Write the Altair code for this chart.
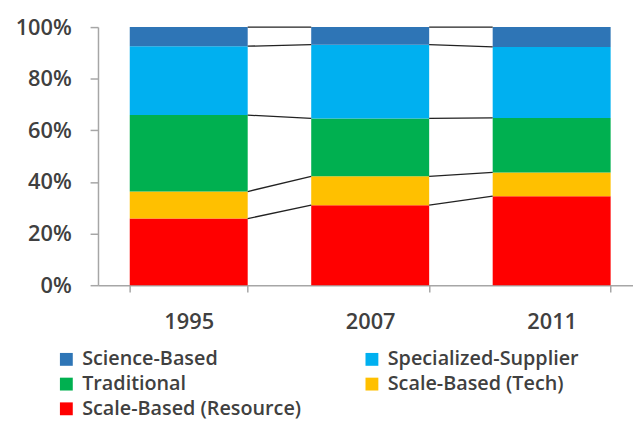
import altair as alt
import pandas as pd

years = ["1995", "2007", "2011"]
categories = ["Science-Based", "Specialized-Supplier", "Traditional",
              "Scale-Based (Tech)", "Scale-Based (Resource)"]
colors = ["#2E75B6", "#00B0F0", "#00B050", "#FFC000", "#FF0000"]

science = [7.4, 6.8, 7.7]
specialized = [26.7, 28.6, 27.5]
traditional = [29.6, 22.4, 21.1]
tech = [10.5, 11.2, 9.2]
resource = [25.8, 31.0, 34.5]

y_ticks = [0, 20, 40, 60, 80, 100]

# stacking order bottom -> top
stack = [("Scale-Based (Resource)", resource), ("Scale-Based (Tech)", tech),
         ("Traditional", traditional), ("Specialized-Supplier", specialized),
         ("Science-Based", science)]

rows = []
tops = {y: [] for y in years}
for i, y in enumerate(years):
    base = 0.0
    for name, vals in stack:
        rows.append({"year": y, "category": name, "y0": base, "y1": base + vals[i]})
        base += vals[i]
        tops[y].append(base)
bars_df = pd.DataFrame(rows)

conn = []
for a, b in zip(years[:-1], years[1:]):
    for k in range(len(stack)):
        conn.append({"from": a, "to": b, "ya": tops[a][k], "yb": tops[b][k]})
conn_df = pd.DataFrame(conn)

# legend is filled column by column: reorder so rows read like the reference
legend_order = [categories[0], categories[2], categories[4], categories[1], categories[3]]
legend_colors = [colors[categories.index(c)] for c in legend_order]

FONT = "Open Sans"
TXT = "#404040"
AX = "#A6A6A6"

xscale = alt.Scale(type="band", domain=years, range=[0, 550.5],
                   paddingInner=0.35, paddingOuter=0.175)
yscale = alt.Scale(domain=[0, 100], nice=False)

bars = alt.Chart(bars_df).mark_bar().encode(
    x=alt.X("year:N", scale=xscale, sort=years,
            axis=alt.Axis(title=None, labelAngle=0, tickBand="extent", tickSize=7,
                          labelPadding=20, domainColor=AX, tickColor=AX,
                          labelFont=FONT, labelFontSize=22, labelFontWeight=600,
                          labelColor=TXT, domainWidth=1.5, tickWidth=1.5)),
    y=alt.Y("y1:Q", scale=yscale,
            axis=alt.Axis(title=None, values=y_ticks, labelExpr="datum.value + '%'",
                          grid=False, tickSize=8, labelPadding=19,
                          domainColor=AX, tickColor=AX, domainWidth=1.5, tickWidth=1.5,
                          labelFont=FONT, labelFontSize=22, labelFontWeight=600,
                          labelColor=TXT)),
    y2="y0:Q",
    color=alt.Color("category:N",
                    scale=alt.Scale(domain=legend_order, range=legend_colors),
                    legend=alt.Legend(title=None, orient="none", legendX=-42, legendY=326,
                                      columns=2, columnPadding=61, rowPadding=5,
                                      symbolType="square", symbolSize=169,
                                      symbolStrokeWidth=0, labelOffset=6, labelLimit=0,
                                      labelFont=FONT, labelFontSize=20,
                                      labelFontWeight=600, labelColor=TXT)),
)

lines = alt.Chart(conn_df).mark_rule(color="#222222", strokeWidth=1.3).encode(
    x=alt.X("from:N", scale=xscale, bandPosition=1),
    x2=alt.X2("to:N", bandPosition=0),
    y=alt.Y("ya:Q", scale=yscale),
    y2="yb:Q",
)

chart = alt.layer(bars, lines).properties(
    width=541, height=261,
    autosize=alt.AutoSizeParams(type="none"),
    padding={"left": 91, "top": 17, "right": 0, "bottom": 134},
).configure_view(stroke=None)

chart.save("out.html", embed_options={"renderer": "svg", "actions": False})
